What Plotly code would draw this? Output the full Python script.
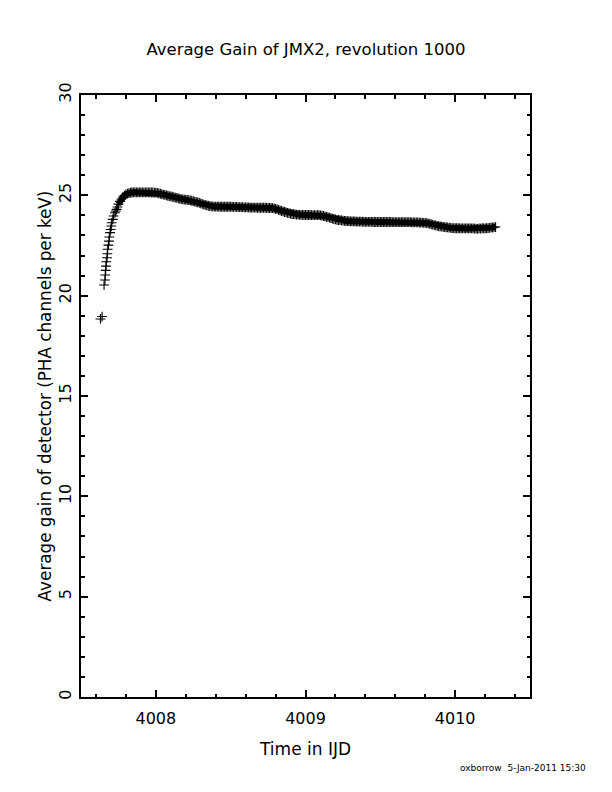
import plotly.graph_objects as go

# Early (rising) part of the gain curve
rise_time = [4007.630, 4007.641, 4007.654, 4007.660, 4007.662, 4007.665, 4007.667,
             4007.669, 4007.674, 4007.676, 4007.678, 4007.683, 4007.687, 4007.689,
             4007.694, 4007.698, 4007.702, 4007.705, 4007.712, 4007.718, 4007.727,
             4007.733, 4007.738, 4007.744]
rise_gain = [18.84, 18.96, 20.53, 20.78, 21.03, 21.26, 21.47,
             21.69, 21.89, 22.09, 22.31, 22.52, 22.72, 22.92,
             23.14, 23.30, 23.47, 23.63, 23.80, 23.97, 24.13,
             24.22, 24.30, 24.42]

# Dense main part of the curve (one sample every 0.01 IJD)
main_time = [
    4007.75, 4007.76, 4007.77, 4007.78, 4007.79, 4007.80, 4007.81, 4007.82, 4007.83, 4007.84,
    4007.85, 4007.86, 4007.87, 4007.88, 4007.89, 4007.90, 4007.91, 4007.92, 4007.93, 4007.94,
    4007.95, 4007.96, 4007.97, 4007.98, 4007.99, 4008.00, 4008.01, 4008.02, 4008.03, 4008.04,
    4008.05, 4008.06, 4008.07, 4008.08, 4008.09, 4008.10, 4008.11, 4008.12, 4008.13, 4008.14,
    4008.15, 4008.16, 4008.17, 4008.18, 4008.19, 4008.20, 4008.21, 4008.22, 4008.23, 4008.24,
    4008.25, 4008.26, 4008.27, 4008.28, 4008.29, 4008.30, 4008.31, 4008.32, 4008.33, 4008.34,
    4008.35, 4008.36, 4008.37, 4008.38, 4008.39, 4008.40, 4008.41, 4008.42, 4008.43, 4008.44,
    4008.45, 4008.46, 4008.47, 4008.48, 4008.49, 4008.50, 4008.51, 4008.52, 4008.53, 4008.54,
    4008.55, 4008.56, 4008.57, 4008.58, 4008.59, 4008.60, 4008.61, 4008.62, 4008.63, 4008.64,
    4008.65, 4008.66, 4008.67, 4008.68, 4008.69, 4008.70, 4008.71, 4008.72, 4008.73, 4008.74,
    4008.75, 4008.76, 4008.77, 4008.78, 4008.79, 4008.80, 4008.81, 4008.82, 4008.83, 4008.84,
    4008.85, 4008.86, 4008.87, 4008.88, 4008.89, 4008.90, 4008.91, 4008.92, 4008.93, 4008.94,
    4008.95, 4008.96, 4008.97, 4008.98, 4008.99, 4009.00, 4009.01, 4009.02, 4009.03, 4009.04,
    4009.05, 4009.06, 4009.07, 4009.08, 4009.09, 4009.10, 4009.11, 4009.12, 4009.13, 4009.14,
    4009.15, 4009.16, 4009.17, 4009.18, 4009.19, 4009.20, 4009.21, 4009.22, 4009.23, 4009.24,
    4009.25, 4009.26, 4009.27, 4009.28, 4009.29, 4009.30, 4009.31, 4009.32, 4009.33, 4009.34,
    4009.35, 4009.36, 4009.37, 4009.38, 4009.39, 4009.40, 4009.41, 4009.42, 4009.43, 4009.44,
    4009.45, 4009.46, 4009.47, 4009.48, 4009.49, 4009.50, 4009.51, 4009.52, 4009.53, 4009.54,
    4009.55, 4009.56, 4009.57, 4009.58, 4009.59, 4009.60, 4009.61, 4009.62, 4009.63, 4009.64,
    4009.65, 4009.66, 4009.67, 4009.68, 4009.69, 4009.70, 4009.71, 4009.72, 4009.73, 4009.74,
    4009.75, 4009.76, 4009.77, 4009.78, 4009.79, 4009.80, 4009.81, 4009.82, 4009.83, 4009.84,
    4009.85, 4009.86, 4009.87, 4009.88, 4009.89, 4009.90, 4009.91, 4009.92, 4009.93, 4009.94,
    4009.95, 4009.96, 4009.97, 4009.98, 4009.99, 4010.00, 4010.01, 4010.02, 4010.03, 4010.04,
    4010.05, 4010.06, 4010.07, 4010.08, 4010.09, 4010.10, 4010.11, 4010.12, 4010.13, 4010.14,
    4010.15, 4010.16, 4010.17, 4010.18, 4010.19, 4010.20, 4010.21, 4010.22, 4010.23, 4010.24,
    4010.25, 4010.26, 4010.27,
]
main_gain = [
    24.56, 24.70, 24.82, 24.92, 24.99, 25.05, 25.09, 25.11, 25.13, 25.14,
    25.15, 25.15, 25.15, 25.15, 25.15, 25.15, 25.15, 25.15, 25.15, 25.15,
    25.15, 25.15, 25.14, 25.14, 25.13, 25.13, 25.12, 25.10, 25.08, 25.06,
    25.04, 25.02, 25.00, 24.98, 24.96, 24.95, 24.93, 24.91, 24.89, 24.87,
    24.85, 24.83, 24.81, 24.80, 24.79, 24.78, 24.77, 24.76, 24.75, 24.73,
    24.71, 24.69, 24.67, 24.65, 24.63, 24.60, 24.57, 24.54, 24.52, 24.50,
    24.48, 24.46, 24.45, 24.45, 24.44, 24.44, 24.44, 24.44, 24.43, 24.43,
    24.43, 24.43, 24.43, 24.43, 24.43, 24.43, 24.42, 24.42, 24.42, 24.42,
    24.41, 24.41, 24.41, 24.41, 24.40, 24.40, 24.40, 24.40, 24.39, 24.39,
    24.39, 24.39, 24.39, 24.38, 24.38, 24.38, 24.38, 24.38, 24.38, 24.38,
    24.37, 24.37, 24.37, 24.36, 24.35, 24.33, 24.31, 24.28, 24.25, 24.22,
    24.20, 24.17, 24.15, 24.13, 24.11, 24.09, 24.07, 24.06, 24.05, 24.04,
    24.04, 24.03, 24.03, 24.03, 24.02, 24.02, 24.02, 24.02, 24.02, 24.01,
    24.01, 24.01, 24.01, 24.01, 24.01, 24.00, 23.99, 23.97, 23.95, 23.93,
    23.91, 23.89, 23.86, 23.84, 23.82, 23.80, 23.78, 23.77, 23.76, 23.75,
    23.74, 23.73, 23.72, 23.71, 23.71, 23.70, 23.70, 23.70, 23.70, 23.69,
    23.69, 23.69, 23.69, 23.69, 23.68, 23.68, 23.68, 23.68, 23.68, 23.68,
    23.67, 23.67, 23.67, 23.67, 23.67, 23.67, 23.67, 23.67, 23.67, 23.67,
    23.67, 23.67, 23.67, 23.66, 23.66, 23.66, 23.66, 23.66, 23.66, 23.66,
    23.66, 23.66, 23.66, 23.66, 23.66, 23.66, 23.65, 23.65, 23.65, 23.65,
    23.65, 23.64, 23.64, 23.64, 23.63, 23.63, 23.62, 23.60, 23.58, 23.56,
    23.54, 23.52, 23.50, 23.48, 23.46, 23.45, 23.44, 23.43, 23.42, 23.41,
    23.40, 23.39, 23.38, 23.37, 23.37, 23.36, 23.36, 23.36, 23.35, 23.35,
    23.35, 23.35, 23.35, 23.35, 23.35, 23.35, 23.35, 23.35, 23.34, 23.34,
    23.33, 23.35, 23.34, 23.36, 23.35, 23.35, 23.36, 23.37, 23.38, 23.40,
    23.39, 23.42, 23.42,
]

x_ticks = [4008, 4009, 4010]
y_ticks = [0, 5, 10, 15, 20, 25, 30]

title_text = "Average Gain of JMX2, revolution 1000"
x_title = "Time in IJD"
y_title = "Average gain of detector (PHA channels per keV)"
footer_text = "oxborrow  5-Jan-2011 15:30"

FONT = "DejaVu Sans"

fig = go.Figure()

# Thick band underneath the dense part
fig.add_trace(go.Scatter(
    x=main_time, y=main_gain, mode="lines",
    line=dict(color="black", width=6), hoverinfo="skip", showlegend=False,
))
# Plus markers for all samples
fig.add_trace(go.Scatter(
    x=rise_time + main_time, y=rise_gain + main_gain, mode="markers",
    marker=dict(symbol="cross-thin", size=7, line=dict(color="black", width=1.1)),
    showlegend=False,
))

axis_common = dict(
    showgrid=False, zeroline=False, showline=True, linecolor="black", linewidth=2,
    mirror="ticks", ticks="inside", ticklen=7, tickwidth=2, tickcolor="black",
    tickfont=dict(family=FONT, size=16, color="black"), automargin=False,
)

fig.update_xaxes(
    **axis_common, range=[4007.5, 4010.5], tickmode="array", tickvals=x_ticks,
    ticktext=[str(v) for v in x_ticks], ticklabelstandoff=6,
    minor=dict(dtick=0.2, ticks="inside", ticklen=3.5, tickwidth=2, tickcolor="black"),
    title=dict(text=x_title, font=dict(family=FONT, size=17, color="black"), standoff=16),
)
fig.update_yaxes(
    **axis_common, range=[0, 30], tickmode="array", tickvals=y_ticks,
    ticktext=[str(v) for v in y_ticks], tickangle=-90, ticklabelstandoff=2,
    minor=dict(dtick=1, ticks="inside", ticklen=3.5, tickwidth=2, tickcolor="black"),
    title=dict(text=y_title, font=dict(family=FONT, size=16.8, color="black"), standoff=0),
)

fig.update_layout(
    width=612, height=792,
    margin=dict(l=73, r=90, t=87, b=103),
    paper_bgcolor="white", plot_bgcolor="white",
    title=dict(text=title_text, x=(306 - 8) / 612, xanchor="center", y=1 - 41 / 792,
               yanchor="middle", font=dict(family=FONT, size=16.5, color="black")),
    annotations=[dict(
        text=footer_text, xref="paper", yref="paper", x=1.129, y=-0.118,
        xanchor="right", yanchor="middle", showarrow=False,
        font=dict(family=FONT, size=9, color="black"),
    )],
)

fig.write_html("out.html")
